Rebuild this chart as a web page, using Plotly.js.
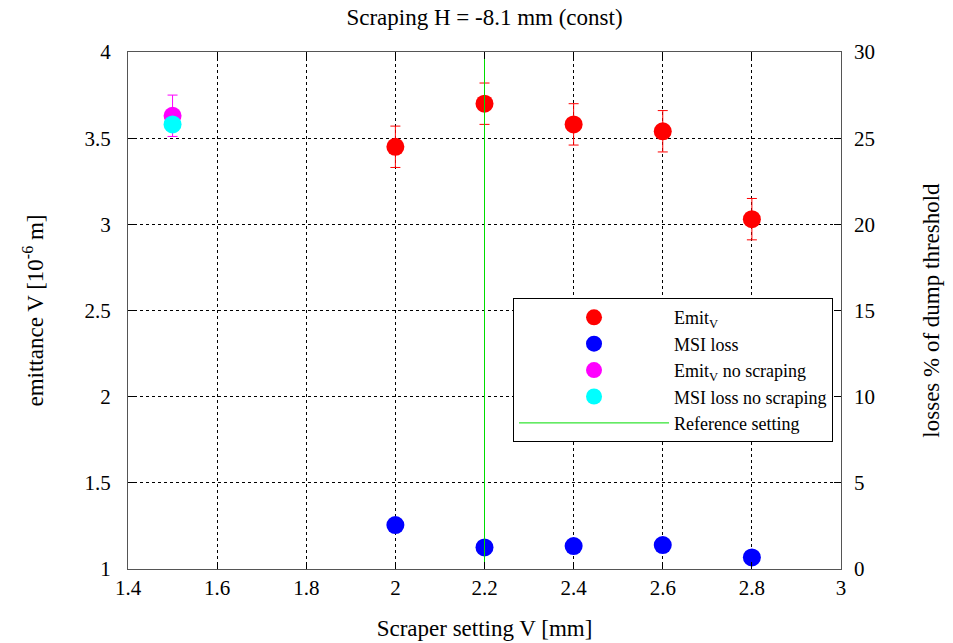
<!DOCTYPE html>
<html>
<head>
<meta charset="utf-8">
<script src="https://cdn.plot.ly/plotly-3.0.1.min.js"></script>
<style>html,body{margin:0;padding:0;background:#fff;}#chart{width:953px;height:643px;}</style>
</head>
<body>
<div id="chart"></div>
<script>
// Data
const scraperV = [2.0, 2.2, 2.4, 2.6, 2.8];
const emitV = [3.45, 3.70, 3.58, 3.54, 3.03];
const emitVErr = [0.12, 0.12, 0.12, 0.12, 0.12];
const msiLoss = [2.55, 1.25, 1.33, 1.39, 0.67];
const noScrapX = [1.5];
const emitNoScrap = [3.63];
const emitNoScrapErr = [0.12];
const msiNoScrap = [25.8];
const refSetting = [2.2, 2.2];
const refSpan = [0, 30];

const serif = 'Liberation Serif';

const traces = [
  {x: scraperV, y: emitV, name: 'Emit<sub>V</sub>', mode: 'markers', type: 'scatter',
   marker: {color: '#ff0000', size: 18},
   error_y: {type: 'data', array: emitVErr, color: '#ff0000', thickness: 1, width: 5}},
  {x: scraperV, y: msiLoss, name: 'MSI loss', mode: 'markers', type: 'scatter', yaxis: 'y2',
   marker: {color: '#0000ff', size: 18}},
  {x: noScrapX, y: emitNoScrap, name: 'Emit<sub>V</sub> no scraping', mode: 'markers', type: 'scatter',
   marker: {color: '#ff00ff', size: 18},
   error_y: {type: 'data', array: emitNoScrapErr, color: '#ff00ff', thickness: 1, width: 5}},
  {x: noScrapX, y: msiNoScrap, name: 'MSI loss no scraping', mode: 'markers', type: 'scatter', yaxis: 'y2',
   marker: {color: '#00ffff', size: 18}},
  {x: refSetting, y: refSpan, name: 'Reference setting', mode: 'lines', type: 'scatter', yaxis: 'y2',
   line: {color: '#00dd00', width: 1}}
];

const layout = {
  width: 953, height: 643,
  margin: {l: 128, r: 112, t: 52, b: 74},
  paper_bgcolor: '#fff', plot_bgcolor: '#fff',
  font: {family: serif, size: 21, color: '#000'},
  title: {text: 'Scraping H = -8.1 mm (const)', font: {family: serif, size: 23, color: '#000'},
          x: 0.5, xref: 'paper', y: 1 - 17/643, yref: 'container', yanchor: 'middle'},
  showlegend: true,
  legend: {x: 0.54, y: 0.524, xanchor: 'left', yanchor: 'top', bgcolor: '#fff',
           bordercolor: '#000', borderwidth: 1, font: {family: serif, size: 18, color: '#000'},
           tracegroupgap: 0, itemwidth: 150},
  xaxis: {range: [1.4, 3.0], dtick: 0.2, tick0: 1.4, ticks: 'inside', ticklen: 7, tickcolor: '#000',
          showline: true, linecolor: '#555', linewidth: 1, mirror: 'ticks',
          showgrid: true, gridcolor: '#000', griddash: 'dot', gridwidth: 1, zeroline: false,
          tickfont: {family: serif, size: 21},
          title: {text: 'Scraper setting V [mm]', font: {family: serif, size: 23}, standoff: 20}},
  yaxis: {range: [1, 4], dtick: 0.5, ticks: 'inside', ticklen: 7, tickcolor: '#000',
          showline: true, linecolor: '#555', linewidth: 1, mirror: true,
          showgrid: true, gridcolor: '#000', griddash: 'dot', gridwidth: 1, zeroline: false,
          tickfont: {family: serif, size: 21}, ticklabelstandoff: 12,
          title: {text: 'emittance V [10<sup>-6</sup> m]', font: {family: serif, size: 23}, standoff: 34}},
  yaxis2: {range: [0, 30], dtick: 5, overlaying: 'y', side: 'right', ticks: 'inside', ticklen: 7,
           tickcolor: '#000', showgrid: false, zeroline: false, showline: false,
           tickfont: {family: serif, size: 21}, ticklabelstandoff: 12,
           title: {text: 'losses % of dump threshold', font: {family: serif, size: 23}, standoff: 48}}
};

Plotly.newPlot('chart', traces, layout, {displayModeBar: false, staticPlot: true});
</script>
</body>
</html>
